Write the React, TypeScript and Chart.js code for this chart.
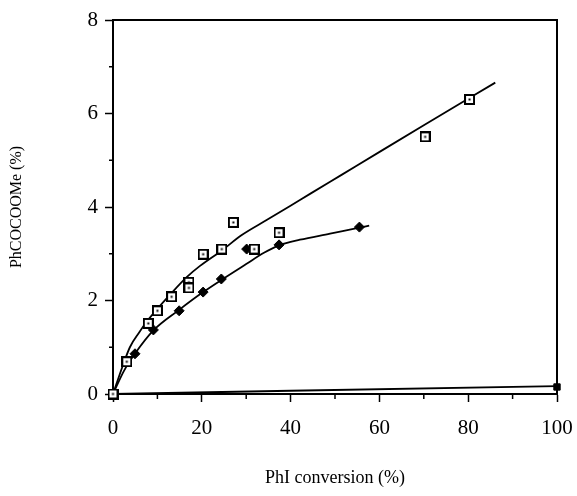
import React, { useEffect, useRef } from 'react';
import { Chart, registerables } from 'chart.js';
Chart.register(...registerables);

// Open-square series
const squareX = [0, 3.1, 7.95, 10.0, 13.2, 17.1, 17.1, 20.3, 24.5, 27.1, 31.8, 37.4, 70.3, 80.3];
const squareY = [0, 0.69, 1.51, 1.78, 2.08, 2.39, 2.27, 2.99, 3.1, 3.67, 3.1, 3.45, 5.5, 6.3];
// Filled-diamond series
const diamondX = [0, 4.95, 9.1, 14.9, 20.3, 24.4, 30.1, 37.4, 55.5];
const diamondY = [0, 0.86, 1.37, 1.78, 2.18, 2.46, 3.1, 3.19, 3.57];
// Filled-square series
const blockX = [0, 100];
const blockY = [0, 0.15];
// Fitted curves
const squareFitX = [0, 2, 3.8, 6, 7.6, 9.8, 12.8, 16.6, 19.6, 24.5, 29, 34.6, 42.1, 48.9, 54.5, 70, 86.1];
const squareFitY = [0, 0.55, 1.0, 1.33, 1.55, 1.8, 2.12, 2.5, 2.74, 3.07, 3.4, 3.72, 4.15, 4.54, 4.86, 5.75, 6.66];
const diamondFitX = [0, 2.5, 5, 9.1, 14.9, 20.3, 24.4, 30, 34, 37.4, 42.1, 48.9, 55.5, 57.7];
const diamondFitY = [0, 0.5, 0.87, 1.36, 1.8, 2.18, 2.44, 2.78, 3.02, 3.18, 3.3, 3.43, 3.56, 3.6];
const blockFitX = [0, 40, 100];
const blockFitY = [0, 0.07, 0.17];

const xMajorLabels = [0, 20, 40, 60, 80, 100];
const yMajorLabels = [0, 2, 4, 6, 8];
const xMinorTicks = [10, 30, 50, 70, 90];
const yMinorTicks = [1, 3, 5, 7];

const zip = (xs: number[], ys: number[]) => xs.map((x, i) => ({ x, y: ys[i] }));

function makeOpenSquare(): HTMLCanvasElement {
  const c = document.createElement('canvas');
  c.width = 11;
  c.height = 11;
  const g = c.getContext('2d')!;
  g.fillStyle = '#fff';
  g.fillRect(0, 0, 11, 11);
  g.strokeStyle = '#000';
  g.lineWidth = 2;
  g.strokeRect(1, 1, 9, 9);
  g.fillStyle = '#000';
  g.fillRect(4.5, 4.5, 2, 2);
  return c;
}

const SERIF = "'Liberation Serif', 'Times New Roman', serif";

export default function App() {
  const ref = useRef<HTMLCanvasElement | null>(null);
  useEffect(() => {
    if (!ref.current) return;
    const sq = makeOpenSquare();
    const framePlugin = {
      id: 'frameAndMinor',
      afterDraw(chart: any) {
        const { ctx, chartArea } = chart;
        const xs = chart.scales.x;
        const ys = chart.scales.y;
        ctx.save();
        ctx.strokeStyle = '#000';
        ctx.lineWidth = 2;
        ctx.beginPath();
        ctx.moveTo(chartArea.left, chartArea.top);
        ctx.lineTo(chartArea.right, chartArea.top);
        ctx.lineTo(chartArea.right, chartArea.bottom);
        ctx.stroke();
        ctx.lineWidth = 1.5;
        ctx.beginPath();
        for (const v of xMinorTicks) {
          const px = xs.getPixelForValue(v);
          ctx.moveTo(px, chartArea.bottom);
          ctx.lineTo(px, chartArea.bottom + 5);
        }
        for (const v of yMinorTicks) {
          const py = ys.getPixelForValue(v);
          ctx.moveTo(chartArea.left - 4, py);
          ctx.lineTo(chartArea.left, py);
        }
        ctx.stroke();
        ctx.restore();
      },
    };
    const chart = new Chart(ref.current, {
      type: 'scatter',
      data: {
        datasets: [
          {
            label: 'squares',
            data: zip(squareX, squareY),
            pointStyle: sq as any,
            pointRadius: 5,
            showLine: false,
            clip: false as any,
          },
          {
            label: 'diamonds',
            data: zip(diamondX, diamondY),
            pointStyle: 'rectRot',
            pointRadius: 5,
            pointBackgroundColor: '#000',
            pointBorderColor: '#000',
            showLine: false,
            clip: false as any,
          },
          {
            label: 'blocks',
            data: zip(blockX, blockY),
            pointStyle: 'rect',
            pointRadius: 4.5,
            pointBackgroundColor: '#000',
            pointBorderColor: '#000',
            showLine: false,
            clip: false as any,
          },
          {
            label: 'squareFit',
            data: zip(squareFitX, squareFitY),
            showLine: true,
            pointRadius: 0,
            borderColor: '#000',
            borderWidth: 1.8,
            cubicInterpolationMode: 'monotone',
            clip: false as any,
          },
          {
            label: 'diamondFit',
            data: zip(diamondFitX, diamondFitY),
            showLine: true,
            pointRadius: 0,
            borderColor: '#000',
            borderWidth: 1.8,
            cubicInterpolationMode: 'monotone',
            clip: false as any,
          },
          {
            label: 'blockFit',
            data: zip(blockFitX, blockFitY),
            showLine: true,
            pointRadius: 0,
            borderColor: '#000',
            borderWidth: 1.8,
            clip: false as any,
          },
        ],
      },
      options: {
        animation: false,
        responsive: false,
        events: [],
        layout: { padding: { top: 20, right: 20, left: 0, bottom: 0 } },
        plugins: { legend: { display: false }, tooltip: { enabled: false } },
        scales: {
          x: {
            type: 'linear',
            min: 0,
            max: 100,
            afterFit: (s: any) => { s.height = 102; s.paddingLeft = 0; s.paddingRight = 0; },
            border: { color: '#000', width: 2 },
            grid: {
              drawOnChartArea: false,
              tickLength: 8,
              tickWidth: 1.5,
              tickColor: (c: any) => (xMajorLabels.includes(c.tick?.value) ? '#000' : 'rgba(0,0,0,0)'),
            },
            ticks: {
              stepSize: 10,
              autoSkip: false,
              maxRotation: 0,
              padding: 14,
              color: '#000',
              font: { family: SERIF, size: 21 },
              callback: (v: any) => (xMajorLabels.includes(Number(v)) ? String(v) : ''),
            },
            title: {
              display: true,
              text: 'PhI conversion (%)',
              color: '#000',
              font: { family: SERIF, size: 18 },
              padding: { top: 0, bottom: 7 },
            },
          },
          y: {
            type: 'linear',
            min: 0,
            max: 8,
            afterFit: (s: any) => { s.width = 113; s.paddingTop = 0; s.paddingBottom = 0; },
            border: { color: '#000', width: 2 },
            grid: {
              drawOnChartArea: false,
              tickLength: 8,
              tickWidth: 1.5,
              tickColor: (c: any) => (yMajorLabels.includes(c.tick?.value) ? '#000' : 'rgba(0,0,0,0)'),
            },
            ticks: {
              stepSize: 1,
              autoSkip: false,
              padding: 7,
              color: '#000',
              font: { family: SERIF, size: 21 },
              callback: (v: any) => (yMajorLabels.includes(Number(v)) ? String(v) : ''),
            },
            title: {
              display: true,
              text: 'PhCOCOOMe (%)',
              color: '#000',
              font: { family: SERIF, size: 16 },
              padding: { top: 7, bottom: 0 },
            },
          },
        },
      },
      plugins: [framePlugin],
    });
    return () => chart.destroy();
  }, []);
  return (
    <div style={{ position: 'fixed', left: 0, top: 0, width: 577, height: 496, background: '#fff' }}>
      <canvas ref={ref} width={577} height={496} style={{ display: 'block', width: 577, height: 496 }} />
    </div>
  );
}
